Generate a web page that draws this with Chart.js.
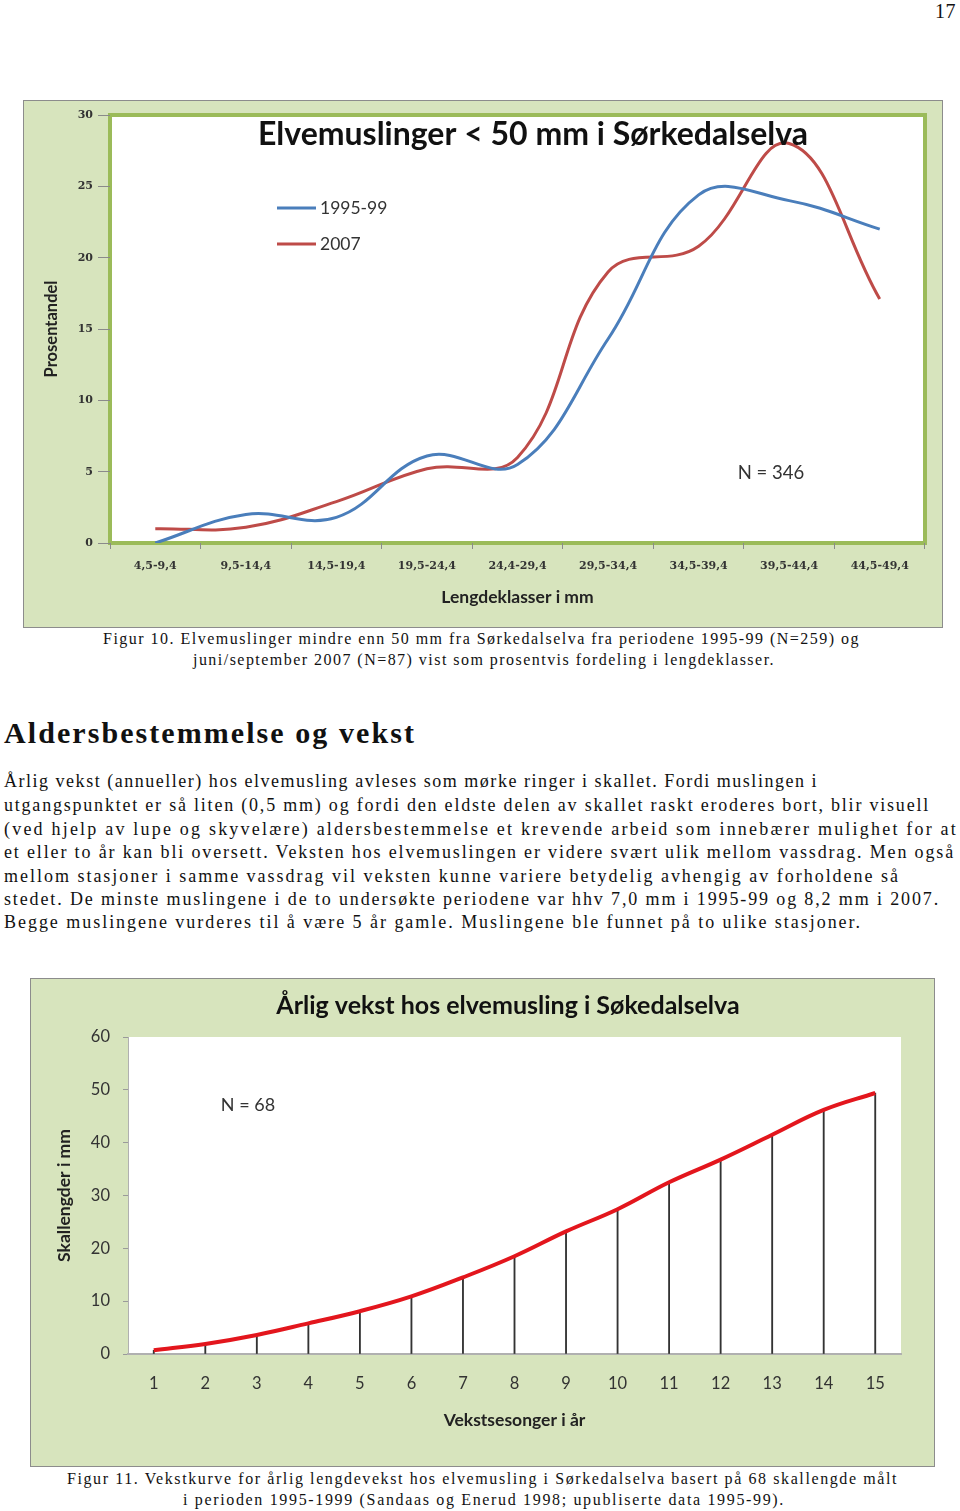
<!DOCTYPE html>
<html>
<head>
<meta charset="utf-8">
<script src="https://cdn.jsdelivr.net/npm/chart.js@4/dist/chart.umd.min.js"></script>
<style>
  html, body { margin: 0; padding: 0; background: #fff; }
  body { position: relative; width: 960px; height: 1511px; overflow: hidden; }
  .box { position: absolute; border: 1px solid #8c8c8c; }
  .box canvas { display: block; }
  .line { position: absolute; white-space: nowrap; font-family: 'Liberation Serif', serif; color: #111; }
</style>
</head>
<body>
<div class="box" style="left:23px; top:100px;"><canvas id="lengthChart" width="918" height="526"></canvas></div>
<div class="box" style="left:30px; top:978px;"><canvas id="growthChart" width="903" height="487"></canvas></div>
<script>
// figure 10 – share per length class
const lengthClasses = ['4,5-9,4', '9,5-14,4', '14,5-19,4', '19,5-24,4', '24,4-29,4',
                       '29,5-34,4', '34,5-39,4', '39,5-44,4', '44,5-49,4'];
const share1995 = [0, 2.0, 1.8, 6.1, 5.5, 14.3, 24.4, 24.0, 22.0];
const share2007 = [1.0, 1.1, 2.9, 5.2, 6.0, 19.0, 20.8, 28.0, 17.1];
const shareTicks = [0, 5, 10, 15, 20, 25, 30];

// figure 11 – growth curve
const seasons = ['1', '2', '3', '4', '5', '6', '7', '8', '9', '10', '11', '12', '13', '14', '15'];
const shellLength = [0.7, 1.9, 3.6, 5.8, 8.1, 10.9, 14.5, 18.5, 23.2, 27.4, 32.5, 36.8, 41.5, 46.2, 49.4];
const lengthTicks = [0, 10, 20, 30, 40, 50, 60];

const paper = '#d7e4bd';

// green panel, white plot area, optional green frame
const frame = {
  id: 'frame',
  beforeDraw(chart, args, opts) {
    const { ctx, chartArea: a } = chart;
    ctx.save();
    ctx.fillStyle = paper;
    ctx.fillRect(0, 0, chart.width, chart.height);
    ctx.fillStyle = '#fff';
    ctx.fillRect(a.left, a.top, a.width, a.height);
    if (opts.edge) {
      ctx.strokeStyle = opts.edge;
      ctx.lineWidth = 4;
      ctx.strokeRect(a.left, a.top, a.width, a.height);
    }
    ctx.restore();
  }
};

// titles, legend and N labels
const notes = {
  id: 'notes',
  afterDraw(chart, args, opts) {
    const ctx = chart.ctx;
    ctx.save();
    ctx.textBaseline = 'middle';
    (opts.items || []).forEach(t => {
      ctx.font = t.font;
      ctx.fillStyle = t.color || '#222';
      ctx.textAlign = t.align || 'center';
      ctx.fillText(t.text, t.x, t.y);
    });
    if (opts.legend) {
      const L = opts.legend;
      chart.data.datasets.forEach((ds, i) => {
        const y = L.y + i * L.gap;
        ctx.strokeStyle = ds.borderColor;
        ctx.lineWidth = 3;
        ctx.beginPath();
        ctx.moveTo(L.x, y);
        ctx.lineTo(L.x + 39, y);
        ctx.stroke();
        ctx.font = '17.5px Lato';
        ctx.fillStyle = '#333';
        ctx.textAlign = 'left';
        ctx.fillText(ds.label, L.x + 43, y);
      });
    }
    ctx.restore();
  }
};

const serifTick = { family: 'DejaVu Serif', weight: 'bold', size: 11 };

new Chart(document.getElementById('lengthChart'), {
  type: 'line',
  data: {
    labels: lengthClasses,
    datasets: [
      { label: '1995-99', data: share1995, borderColor: '#4a7ebb', borderWidth: 3,
        pointRadius: 0, tension: 0.4, fill: false },
      { label: '2007', data: share2007, borderColor: '#be4b48', borderWidth: 3,
        pointRadius: 0, tension: 0.4, fill: false }
    ]
  },
  options: {
    responsive: false,
    animation: false,
    devicePixelRatio: 1,
    layout: { padding: { top: 14, right: 17, left: 0, bottom: 0 } },
    plugins: {
      legend: { display: false },
      tooltip: { enabled: false },
      frame: { edge: '#9bbb59' },
      notes: {
        items: [
          { text: 'Elvemuslinger < 50 mm i Sørkedalselva', x: 509, y: 34, font: 'bold 32px Lato', color: '#111' },
          { text: 'N = 346', x: 747, y: 372, font: '18.5px Lato', color: '#333' }
        ],
        legend: { x: 253, y: 107, gap: 36 }
      }
    },
    scales: {
      x: {
        offset: true,
        grid: { offset: true, drawOnChartArea: false, tickLength: 6, color: '#8a8a8a' },
        border: { display: false },
        ticks: { padding: 11, font: serifTick, color: '#333', maxRotation: 0, autoSkip: false },
        title: { display: true, text: 'Lengdeklasser i mm', color: '#222',
                 font: { family: 'Lato', weight: 'bold', size: 17.5 }, padding: { top: 0, bottom: 19 } },
        afterFit(s) { s.height = 84; }
      },
      y: {
        min: 0, max: 30,
        afterBuildTicks(s) { s.ticks = shareTicks.map(v => ({ value: v })); },
        grid: { drawOnChartArea: false, tickLength: 12, color: '#8a8a8a' },
        border: { display: false },
        ticks: { padding: 5, font: serifTick, color: '#333' },
        title: { display: true, text: 'Prosentandel', color: '#222',
                 font: { family: 'Lato', weight: 'bold', size: 16.5 }, padding: { top: 18, bottom: 0 } },
        afterFit(s) { s.width = 86; }
      }
    }
  },
  plugins: [frame, notes]
});

new Chart(document.getElementById('growthChart'), {
  data: {
    labels: seasons,
    datasets: [
      { type: 'line', label: 'Skallengde', data: shellLength, borderColor: '#e3161d', borderWidth: 4,
        pointRadius: 0, tension: 0.4, order: 0 },
      { type: 'bar', label: 'drop', data: shellLength, backgroundColor: '#333333',
        barThickness: 1.2, order: 1 }
    ]
  },
  options: {
    responsive: false,
    animation: false,
    devicePixelRatio: 1,
    layout: { padding: { top: 58, right: 33, left: 0, bottom: 0 } },
    plugins: {
      legend: { display: false },
      tooltip: { enabled: false },
      frame: {},
      notes: {
        items: [
          { text: 'Årlig vekst hos elvemusling i Søkedalselva', x: 477, y: 27, font: 'bold 25px Lato', color: '#111' },
          { text: 'N = 68', x: 217, y: 126, font: '18px Lato', color: '#333' }
        ]
      }
    },
    scales: {
      x: {
        offset: true,
        grid: { display: false, drawTicks: false },
        border: { display: true, color: '#b0b0b0', width: 2 },
        ticks: { padding: 20, font: { family: 'Lato', size: 16.5 }, color: '#333', maxRotation: 0, autoSkip: false },
        title: { display: true, text: 'Vekstsesonger i år', color: '#222',
                 font: { family: 'Lato', weight: 'bold', size: 17.5 }, padding: { top: 0, bottom: 35 } },
        afterFit(s) { s.height = 112; }
      },
      y: {
        min: 0, max: 60,
        afterBuildTicks(s) { s.ticks = lengthTicks.map(v => ({ value: v })); },
        grid: { drawOnChartArea: false, tickLength: 5, color: '#9a9a9a' },
        border: { display: true, color: '#b0b0b0' },
        ticks: { padding: 13, font: { family: 'Lato', size: 16.5 }, color: '#333' },
        title: { display: true, text: 'Skallengder i mm', color: '#222',
                 font: { family: 'Lato', weight: 'bold', size: 17.5 }, padding: { top: 23, bottom: 0 } },
        afterFit(s) { s.width = 97; }
      }
    }
  },
  plugins: [frame, notes]
});

// page text: [text, left, centre y, width, font size, bold]
const pageLines = [
  ['17', 935, 11, 21, 20, false],
  ['Figur 10. Elvemuslinger mindre enn 50 mm fra Sørkedalselva fra periodene 1995-99 (N=259) og', 103, 639, 757, 16, false],
  ['juni/september 2007 (N=87) vist som prosentvis fordeling i lengdeklasser.', 193, 660, 582, 16, false],
  ['Aldersbestemmelse og vekst', 4, 733, 412, 30, true],
  ['Årlig vekst (annueller) hos elvemusling avleses som mørke ringer i skallet. Fordi muslingen i', 4, 781, 814, 18, false],
  ['utgangspunktet er så liten (0,5 mm) og fordi den eldste delen av skallet raskt eroderes bort, blir visuell', 4, 805, 926, 18, false],
  ['(ved hjelp av lupe og skyvelære) aldersbestemmelse et krevende arbeid som innebærer mulighet for at', 4, 829, 954, 18, false],
  ['et eller to år kan bli oversett. Veksten hos elvemuslingen er videre svært ulik mellom vassdrag. Men også', 4, 852, 951, 18, false],
  ['mellom stasjoner i samme vassdrag vil veksten kunne variere betydelig avhengig av forholdene så', 4, 876, 896, 18, false],
  ['stedet. De minste muslingene i de to undersøkte periodene var hhv 7,0 mm i 1995-99 og 8,2 mm i 2007.', 4, 899, 936, 18, false],
  ['Begge muslingene vurderes til å være 5 år gamle. Muslingene ble funnet på to ulike stasjoner.', 4, 922, 858, 18, false],
  ['Figur 11. Vekstkurve for årlig lengdevekst hos elvemusling i Sørkedalselva basert på 68 skallengde målt', 67, 1479, 831, 16, false],
  ['i perioden 1995-1999 (Sandaas og Enerud 1998; upubliserte data 1995-99).', 183, 1500, 602, 16, false]
];

pageLines.forEach(([text, x, y, w, size, bold]) => {
  const el = document.createElement('div');
  el.className = 'line';
  el.textContent = text;
  el.style.fontSize = size + 'px';
  el.style.lineHeight = Math.round(size * 1.2) + 'px';
  el.style.left = x + 'px';
  el.style.top = (y - size * 0.6) + 'px';
  if (bold) el.style.fontWeight = 'bold';
  document.body.appendChild(el);
  const natural = el.getBoundingClientRect().width;
  el.style.letterSpacing = ((w - natural) / text.length) + 'px';
});
</script>
</body>
</html>
